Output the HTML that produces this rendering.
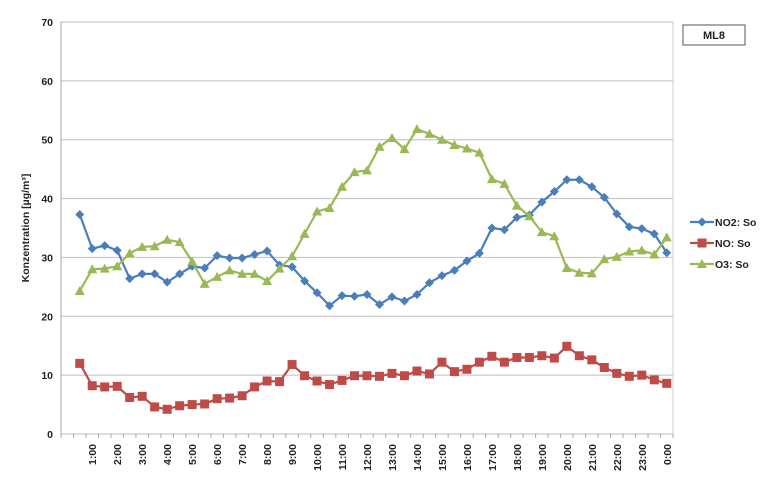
<!DOCTYPE html>
<html><head><meta charset="utf-8"><style>
body{margin:0;background:#fff;}
svg text{font-family:"Liberation Sans",sans-serif;fill:#222;}
</style></head><body>
<svg id="chart" width="764" height="478" xmlns="http://www.w3.org/2000/svg">
<g id="grid"></g>
<g id="axes"></g>
<g id="series"></g>
<text x="29" y="228" font-size="10.5" font-weight="bold" transform="rotate(-90 29 228)" text-anchor="middle">Konzentration [µg/m³]</text>
<rect x="683" y="25" width="62" height="20" fill="#fff" stroke="#555"/>
<text x="714" y="39" font-size="11" font-weight="bold" text-anchor="middle">ML8</text>
<g id="legend"></g>
</svg>
<script>
const hourLabels = ["1:00","2:00","3:00","4:00","5:00","6:00","7:00","8:00","9:00","10:00","11:00","12:00","13:00","14:00","15:00","16:00","17:00","18:00","19:00","20:00","21:00","22:00","23:00","0:00"];
const yTicks = [0,10,20,30,40,50,60,70];
const no2 = [37.3,31.5,32,31.2,26.4,27.2,27.2,25.8,27.2,28.5,28.2,30.3,29.9,29.9,30.5,31.1,28.7,28.4,26,24,21.8,23.5,23.4,23.7,22,23.3,22.6,23.7,25.7,26.9,27.8,29.4,30.7,35,34.7,36.8,37.2,39.4,41.2,43.2,43.2,42,40.2,37.4,35.2,34.9,34,30.8];
const no = [12,8.2,8,8.1,6.2,6.4,4.6,4.2,4.8,5,5.1,6,6.1,6.5,8,9,8.9,11.8,9.9,9,8.4,9.1,9.9,9.9,9.8,10.3,9.9,10.7,10.2,12.2,10.6,11,12.2,13.2,12.2,13,13,13.3,12.9,14.9,13.3,12.6,11.3,10.3,9.8,10,9.2,8.6];
const o3 = [24.3,28,28.1,28.5,30.7,31.8,31.9,33,32.6,29.3,25.5,26.7,27.8,27.2,27.2,26,28.1,30.2,34,37.8,38.4,42,44.5,44.8,48.8,50.3,48.4,51.8,51,50,49.1,48.5,47.8,43.3,42.5,38.8,37,34.3,33.6,28.2,27.4,27.3,29.7,30.1,31,31.2,30.5,33.4];
const seriesNames = ["NO2: So","NO: So","O3: So"];

const NS="http://www.w3.org/2000/svg";
const L=61,R=673,T=22,B=434,NC=49,YMAX=70;
const cw=(R-L)/NC;
const x=i=>L+(i+1.5)*cw;
const y=v=>B-(v/YMAX)*(B-T);
function mk(tag,attrs,parent){const e=document.createElementNS(NS,tag);for(const k in attrs)e.setAttribute(k,attrs[k]);parent.appendChild(e);return e;}
const grid=document.getElementById('grid'),axes=document.getElementById('axes'),ser=document.getElementById('series'),leg=document.getElementById('legend');
yTicks.forEach(v=>{
  const ln=mk('line',{x1:L,x2:R,y1:y(v),y2:y(v),stroke:'#c8c8c8','stroke-width':1.2},grid);
  
  
  const t=mk('text',{x:L-8,y:y(v)+4,'font-size':10.5,'font-weight':'bold','text-anchor':'end'},axes);
  t.textContent=v;
  
  
});
const ax=mk('line',{x1:L,x2:L,y1:T,y2:B,stroke:'#aaa'},axes);


const ax2=mk('line',{x1:R,x2:R,y1:T,y2:B,stroke:'#ccc'},axes);


for(let c=0;c<=NC;c++){const tk=mk('line',{x1:L+c*cw,x2:L+c*cw,y1:B,y2:B+4,stroke:'#aaa'},axes);
  
  }
hourLabels.forEach((lab,k)=>{
  const cx=L+(2*(k+1)+0.5)*cw+4, cy=B+10;
  const t=mk('text',{x:cx,y:cy,'font-size':10.5,'font-weight':'bold','text-anchor':'end',transform:`rotate(-90 ${cx} ${cy})`},axes);
  t.textContent=lab;
  
  
});
function marker(type,cx,cy,color,parent){
  let e;
  if(type==='d') e=mk('polygon',{points:`${cx},${cy-4.5} ${cx+4.5},${cy} ${cx},${cy+4.5} ${cx-4.5},${cy}`,fill:color},parent);
  else if(type==='s') e=mk('rect',{x:cx-4.5,y:cy-4.5,width:9,height:9,fill:color},parent);
  else e=mk('polygon',{points:`${cx},${cy-5} ${cx+5},${cy+4} ${cx-5},${cy+4}`,fill:color},parent);
  return e;
}
const defs=[[no2,'#4a7ebb','d'],[no,'#be4b48','s'],[o3,'#98b954','t']];
defs.forEach(([data,color,m],si)=>{
  const g=mk('g',{},ser);
  
  
  const pl=mk('polyline',{points:data.map((v,i)=>x(i)+','+y(v)).join(' '),fill:'none',stroke:color,'stroke-width':2.2},g);
  
  
  data.forEach((v,i)=>{const p=marker(m,x(i),y(v),color,g);
    
    });
  const ly=222+si*21;
  const lg=mk('g',{},leg);
  
  
  mk('line',{x1:690,x2:714,y1:ly,y2:ly,stroke:color,'stroke-width':2.2},lg);
  marker(m,702,ly,color,lg);
  const t=mk('text',{x:715,y:ly+4,'font-size':10.5,'font-weight':'bold'},lg);
  t.textContent=seriesNames[si];
});
</script>
</body></html>
